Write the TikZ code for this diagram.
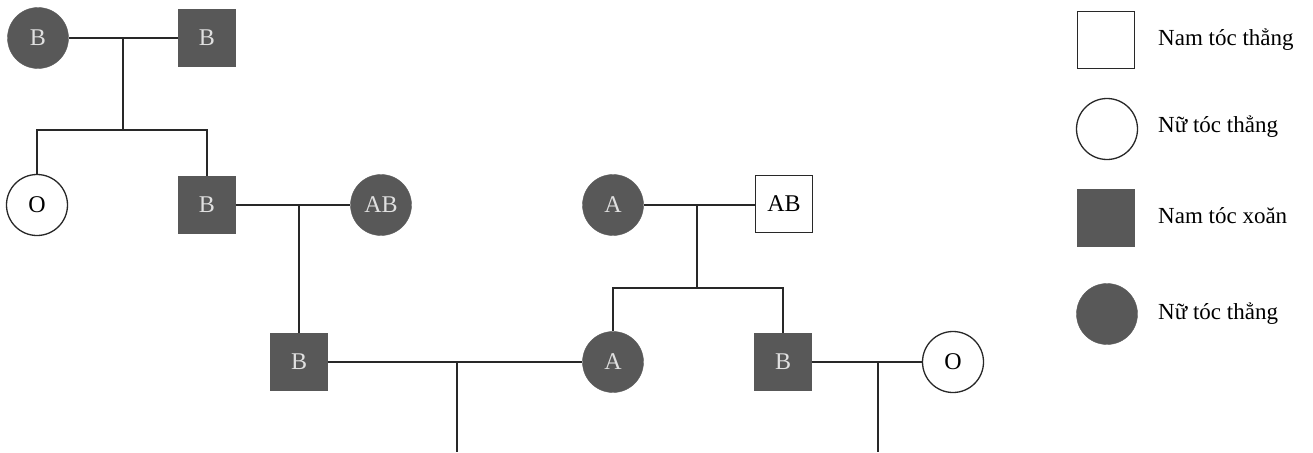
\documentclass[tikz,border=0pt]{standalone}
\usepackage{fontspec}
\setmainfont{Liberation Serif}
\definecolor{shade}{RGB}{88,88,88}
\definecolor{ink}{RGB}{40,40,40}
\tikzset{
  person/.style={inner sep=0pt, font=\fontsize{24}{28}\selectfont},
  male/.style={person, rectangle, minimum width=57pt, minimum height=57pt},
  female/.style={person, circle, minimum size=61pt},
  plain/.style={draw=ink, line width=1.3pt, fill=white, text=black},
  dark/.style={fill=shade, draw=shade, text=white!88!black},
  link/.style={draw=ink, line width=1.4pt},
  legendtext/.style={anchor=west, inner sep=0pt, font=\fontsize{23}{27}\selectfont}
}
\begin{document}
\begin{tikzpicture}[x=1pt,y=-1pt]
\useasboundingbox (0,0) rectangle (1313,452);

% generation I
\node[female,dark] (c1) at (38,38) {B};
\node[male,dark] (s1) at (207,38) {B};
% generation II
\node[female,plain] (c2) at (37,205) {O};
\node[male,dark] (s2) at (207,205) {B};
\node[female,dark] (c3) at (381,205) {AB};
\node[female,dark] (c4) at (613,205) {A};
\node[male,plain] (s3) at (784,204) {AB};
% generation III
\node[male,dark] (s4) at (299,362) {B};
\node[female,dark] (c5) at (613,362) {A};
\node[male,dark] (s5) at (783,362) {B};
\node[female,plain] (c6) at (953,362) {O};

% couple and sibship points
\coordinate (m1) at (123,38);
\coordinate (k1) at (123,130);
\coordinate (m2) at (299,205);
\coordinate (m3) at (697,205);
\coordinate (k3) at (697,288);
\coordinate (m4) at (457,362);
\coordinate (e4) at (457,452);
\coordinate (m5) at (878,362);
\coordinate (e5) at (878,452);

\draw[link] (c1.east) -- (s1.west);
\draw[link] (m1) -- (k1);
\draw[link] (c2.north) |- (k1) -| (s2.north);

\draw[link] (s2.east) -- (c3.west);
\draw[link] (m2) -- (s4.north);

\draw[link] (c4.east) -- (c4.east -| s3.west);
\draw[link] (m3) -- (k3);
\draw[link] (c5.north) |- (k3) -| (s5.north);

\draw[link] (s4.east) -- (c5.west);
\draw[link] (m4) -- (e4);
\draw[link] (s5.east) -- (c6.west);
\draw[link] (m5) -- (e5);

% legend
\node[male,plain] (l1) at (1106,40) {};
\node[female,plain] (l2) at (1107,129) {};
\node[male,dark] (l3) at (1106,218) {};
\node[female,dark] (l4) at (1107,314) {};
\node[legendtext] (t1) at (1158,40) {Nam tóc thẳng};
\node[legendtext] (t2) at (1158,127) {Nữ tóc thẳng};
\node[legendtext] (t3) at (1158,216) {Nam tóc xoăn};
\node[legendtext] (t4) at (1158,314) {Nữ tóc thẳng};
\end{tikzpicture}
\end{document}
